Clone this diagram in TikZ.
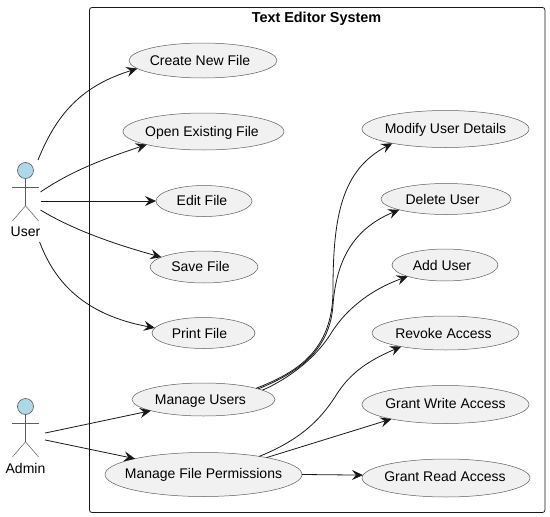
\documentclass[tikz,border=0pt]{standalone}
\usepackage{fontspec}
\setmainfont{Liberation Sans}
\usetikzlibrary{arrows.meta,positioning,shapes.geometric}

\definecolor{linecol}{HTML}{181818}
\definecolor{fillcol}{HTML}{F1F1F1}
\definecolor{headcol}{HTML}{ADD8E6}
% label nudged left by half of #1 and raised by #2
\newcommand{\uclabel}[3]{\hspace*{-#1pt}\raisebox{#2pt}{#3}}

\begin{document}
\begin{tikzpicture}[x=1pt,y=-1pt,
      usecase/.style={
         ellipse,
         draw=linecol!70,
         fill=fillcol,
         line width=0.5pt,
         inner xsep=-40pt,
         inner ysep=-15pt,
         outer sep=0pt,
         text height=10pt,
         text depth=0pt,
         font=\fontsize{14}{16}\selectfont},
      actorbox/.style={
         rectangle,
         inner sep=0pt,
         outer sep=0pt},
      actorhead/.style={
         circle,
         draw=linecol!70,
         fill=headcol,
         line width=0.6pt,
         inner sep=0pt,
         minimum size=16pt},
      actorlimb/.style={draw=linecol!70,line width=0.5pt},
      actorname/.style={font=\fontsize{14}{16}\selectfont,inner sep=0pt},
      myarrow/.style={-{Stealth[length=11pt,width=10pt,inset=4pt]},draw=linecol,line width=0.8pt}
      ]
      \useasboundingbox (0,0) rectangle (550,517);

      \node[draw=linecol,line width=0.8pt,rounded corners=2.5pt,inner sep=0pt,outer sep=0pt,
         minimum width=455.5pt,minimum height=505pt] (system) at (317.25,260) {};
      \node[font=\fontsize{14.4}{16}\selectfont\bfseries,inner sep=0pt] (systemtitle) at (316.5,19) {Text Editor System};

      \node[usecase, minimum width=148pt, minimum height=35pt] (create) at (203,60.5) {\uclabel{6}{0.5}{Create New File}};
      \node[usecase, minimum width=161pt, minimum height=37pt] (open) at (203.5,131.5) {\uclabel{3}{0}{Open Existing File}};
      \node[usecase, minimum width=96pt, minimum height=31pt] (edit) at (204,201) {\uclabel{4}{1}{Edit File}};
      \node[usecase, minimum width=108pt, minimum height=32pt] (save) at (204,267) {\uclabel{7}{0.5}{Save File}};
      \node[usecase, minimum width=103pt, minimum height=31pt] (print) at (203.5,333) {\uclabel{8}{0}{Print File}};
      \node[usecase, minimum width=143pt, minimum height=33pt] (users) at (203.5,399.5) {\uclabel{6}{0}{Manage Users}};
      \node[usecase, minimum width=197pt, minimum height=44pt] (perm) at (203.5,474.5) {\uclabel{0}{1.5}{Manage File Permissions}};

      \node[usecase, minimum width=167pt, minimum height=37pt] (modify) at (445.5,129) {\uclabel{0}{1}{Modify User Details}};
      \node[usecase, minimum width=130pt, minimum height=31pt] (delete) at (446,199) {\uclabel{7}{0}{Delete User}};
      \node[usecase, minimum width=106pt, minimum height=32pt] (add) at (445,265) {\uclabel{6}{0}{Add User}};
      \node[usecase, minimum width=147pt, minimum height=34pt] (revoke) at (445.5,333) {\uclabel{4}{0}{Revoke Access}};
      \node[usecase, minimum width=167pt, minimum height=38pt] (write) at (445.5,404.5) {\uclabel{0}{1.5}{Grant Write Access}};
      \node[usecase, minimum width=168pt, minimum height=38pt] (read) at (446,478) {\uclabel{2}{2}{Grant Read Access}};

      % actors
      \node[actorbox, minimum width=30pt, minimum height=82pt] (user) at (25.5,201) {};
      \node[actorhead] (userhead) at (25.5,170.5) {};
      \node[actorname] (username) at (25.5,232) {User};
      \node[actorbox, minimum width=39pt, minimum height=77pt] (admin) at (25.5,436.5) {};
      \node[actorhead] (adminhead) at (25.5,406.5) {};
      \node[actorname] (adminname) at (25.5,468) {Admin};

      \foreach \who in {userhead,adminhead}
      {
         \draw[actorlimb] (\who.south) -- ++(0,27) coordinate (\who hip);
         \draw[actorlimb] (\who.south) ++(-13.5,8) -- ++(27,0);
         \draw[actorlimb] (\who hip) -- ++(-13,15);
         \draw[actorlimb] (\who hip) -- ++(13,15);
      }

      \draw[myarrow] (user.73) .. controls (58,110) and (85,85) .. (create.187);
      \draw[myarrow] (user.31) .. controls (70,172) and (100,160) .. (open.193.7);
      \draw[myarrow] (user.east) -- (edit.west);
      \draw[myarrow] (user.-31) .. controls (70,228) and (110,243) .. (save.167.5);
      \draw[myarrow] (user.-71) .. controls (55,283) and (85,315) .. (print.174);
%
      \draw[myarrow] (admin.10) -- (users.192);
      \draw[myarrow] (admin.-10) -- (perm.167.5);
%
      \draw[myarrow] (users.12.8) .. controls (295,373) and (333,352) .. (333,290)
         .. controls (333,215) and (342,170) .. (modify.195);
      \draw[myarrow] (users.11) .. controls (298,373) and (330,350) .. (333,305)
         .. controls (336,265) and (350,230) .. (delete.193.4);
      \draw[myarrow] (users.9) .. controls (290,378) and (315,358) .. (330,335)
         .. controls (345,310) and (370,290) .. (add.197.5);
%
      \draw[myarrow] (perm.18.1) .. controls (300,440) and (320,420) .. (335,397)
         .. controls (350,372) and (370,360) .. (revoke.197.8);
      \draw[myarrow] (perm.15.9) -- (write.195.4);
      \draw[myarrow] (perm.east) -- (read.178);

    \end{tikzpicture}
\end{document}
